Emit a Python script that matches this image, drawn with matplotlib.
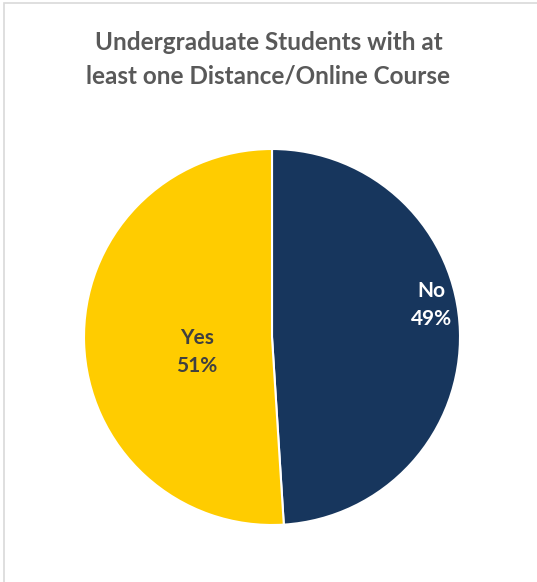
import matplotlib.pyplot as plt
from matplotlib.patches import Rectangle

labels = ['No', 'Yes']
values = [49, 51]
colors = ['#17365D', '#FFCC00']
text_colors = ['white', '#404040']

fig = plt.figure(figsize=(5.37, 5.82), dpi=100)
plt.rcParams['font.family'] = ['Lato', 'DejaVu Sans']

# light frame from the chart area (only left / top visible)
fig.patches.append(Rectangle((4 / 537, -0.1), 1.2, 1.1 - 3 / 582, transform=fig.transFigure,
                             fill=False, edgecolor='#D9D9D9', linewidth=1.2))

fig.text(0.5, 1 - 43 / 582, 'Undergraduate Students with at', ha='center', va='center',
         fontsize=17.5, fontweight='bold', color='#595959')
fig.text(0.5, 1 - 76 / 582, 'least one Distance/Online Course', ha='center', va='center',
         fontsize=17.5, fontweight='bold', color='#595959')

ax = fig.add_axes([84 / 537, 57 / 582, 376 / 537, 376 / 582])
wedges, _ = ax.pie(values, colors=colors, startangle=90, counterclock=False,
                   wedgeprops=dict(edgecolor='white', linewidth=1.5))
ax.set_aspect('equal')
ax.set_xlim(-1, 1)
ax.set_ylim(-1, 1)

label_pos = [(0.85, 0.17), (-0.40, -0.08)]
for lab, val, tc, (x, y) in zip(labels, values, text_colors, label_pos):
    ax.text(x, y, f'{lab}\n{val}%', ha='center', va='center', fontsize=15,
            fontweight='bold', color=tc, linespacing=1.55)

fig.savefig('out.png', dpi=100)
